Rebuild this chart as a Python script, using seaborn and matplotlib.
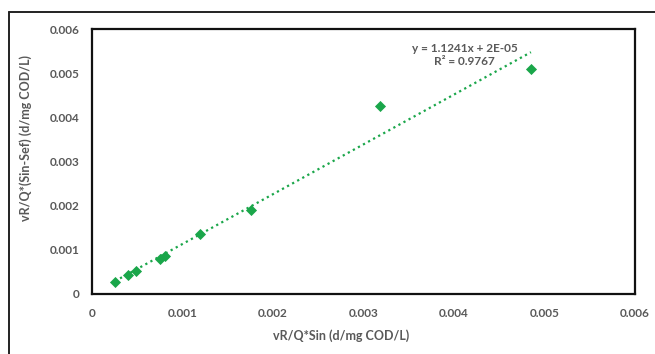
import numpy as np
import pandas as pd
import matplotlib
matplotlib.use("Agg")
import matplotlib.pyplot as plt
import seaborn as sns
from matplotlib.lines import Line2D

# data
x_sin = [0.000254, 0.000398, 0.000487, 0.00075, 0.00081, 0.00119, 0.00176, 0.00318, 0.00485]
y_sin_sef = [0.00027, 0.00043, 0.00052, 0.00079, 0.00086, 0.00135, 0.00190, 0.00425, 0.00510]
x_ticks = [0, 0.001, 0.002, 0.003, 0.004, 0.005, 0.006]
y_ticks = [0, 0.001, 0.002, 0.003, 0.004, 0.005, 0.006]
tick_labels = ['0', '0.001', '0.002', '0.003', '0.004', '0.005', '0.006']
eq_text = "y = 1.1241x + 2E-05\nR² = 0.9767"

df = pd.DataFrame({'x': x_sin, 'y': y_sin_sef})

green = '#1aa64a'
grey = '#595959'

sns.set_style("white")
plt.rcParams['font.family'] = ['Lato', 'DejaVu Sans']

fig = plt.figure(figsize=(6.55, 3.54), dpi=100)
ax = fig.add_axes([92/655, 1-294/354, (635-92)/655, (294-29)/354])

sns.scatterplot(data=df, x='x', y='y', marker='D', s=32, color=green,
                edgecolor=green, linewidth=0, ax=ax, zorder=3)

# linear trend line
coef = np.polyfit(df.x, df.y, 1)
xs = np.array([df.x.min(), df.x.max()])
ax.plot(xs, np.polyval(coef, xs), linestyle=(0, (1, 1.6)), color=green, linewidth=1.6, zorder=2)

ax.set_xlim(0, 0.006)
ax.set_ylim(0, 0.006)
ax.set_xticks(x_ticks)
ax.set_yticks(y_ticks)
ax.set_xticklabels(tick_labels)
ax.set_yticklabels(tick_labels)
ax.tick_params(axis='both', length=0, labelsize=8.5, labelcolor=grey)
ax.tick_params(axis='x', pad=10)
ax.tick_params(axis='y', pad=9)
for lbl in ax.get_xticklabels() + ax.get_yticklabels():
    lbl.set_fontweight('bold')

ax.set_xlabel('vR/Q*Sin (d/mg COD/L)', fontsize=9, color=grey, fontweight='bold')
ax.set_ylabel('vR/Q*(Sin-Sef) (d/mg COD/L)', fontsize=9, color=grey, fontweight='bold')
ax.xaxis.set_label_coords(0.459, -0.158)
ax.yaxis.set_label_coords(-0.123, 0.589)
ax.xaxis.label.set_va('center')
ax.yaxis.label.set_va('center')

for sp in ax.spines.values():
    sp.set_visible(True)
    sp.set_color('#111111')
    sp.set_linewidth(1.6)
ax.grid(False)

ax.text(0.00412, 0.00541, eq_text, fontsize=8.5, color=grey, fontweight='bold',
        ha='center', va='center', linespacing=1.25)

# chart-area border (top and left visible)
fig.add_artist(Line2D([9/655, 1], [1-12/354, 1-12/354], color='#222222', linewidth=1.4))
fig.add_artist(Line2D([9/655, 9/655], [0, 1-12/354], color='#222222', linewidth=1.4))

fig.savefig('out.png', dpi=100)
